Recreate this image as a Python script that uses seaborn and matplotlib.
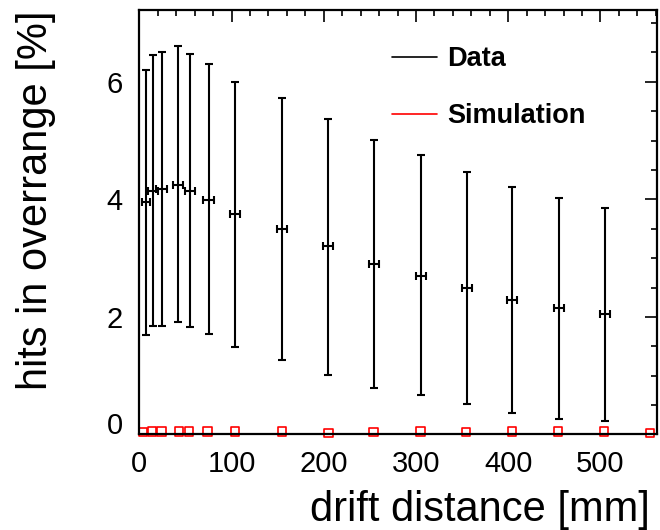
import numpy as np
import pandas as pd
import matplotlib
matplotlib.use('Agg')
import matplotlib.pyplot as plt
from matplotlib.lines import Line2D
from matplotlib.ticker import MultipleLocator
import seaborn as sns

# Data points (drift distance [mm], hits in overrange [%])
data_x = [7.5, 15, 24, 42, 55, 75, 104, 155, 205, 254, 305, 355, 404, 455, 505]
data_y = [3.96, 4.15, 4.17, 4.25, 4.15, 3.99, 3.75, 3.49, 3.21, 2.90, 2.70, 2.49, 2.29, 2.15, 2.05]
data_hi = [6.20, 6.46, 6.51, 6.60, 6.47, 6.30, 5.99, 5.72, 5.37, 5.01, 4.76, 4.46, 4.21, 4.03, 3.86]
data_lo = [1.69, 1.85, 1.85, 1.91, 1.83, 1.71, 1.49, 1.27, 1.02, 0.79, 0.67, 0.52, 0.36, 0.26, 0.23]
data_xerr = [4.2, 5.5, 5.5, 5.5, 5.5, 5.5, 5.5, 5.5, 5.5, 5.5, 5.5, 5.5, 5.5, 5.5, 5.5]

# Simulation points
sim_x = [4, 14, 24, 43, 54, 74, 104, 155, 205, 254, 305, 354, 404, 454, 504, 554]
sim_y = [0.04, 0.05, 0.05, 0.05, 0.05, 0.05, 0.05, 0.05, 0.02, 0.04, 0.05, 0.04, 0.05, 0.05, 0.05, 0.03]

legend_labels = ["Data", "Simulation"]

sns.set_style("white")
plt.rcParams['font.family'] = ['Liberation Sans', 'DejaVu Sans']
plt.rcParams['text.color'] = 'black'
plt.rcParams['axes.labelcolor'] = 'black'
plt.rcParams['xtick.color'] = 'black'
plt.rcParams['ytick.color'] = 'black'

df_data = pd.DataFrame({"x": data_x, "y": data_y, "hi": data_hi, "lo": data_lo, "xerr": data_xerr})
df_sim = pd.DataFrame({"x": sim_x, "y": sim_y})

fig = plt.figure(figsize=(6.6, 5.3), dpi=100)
ax = fig.add_axes([0.2112, 0.1802, 0.7838, 0.8009])

yerr = np.vstack([df_data["y"] - df_data["lo"], df_data["hi"] - df_data["y"]])
ax.errorbar(df_data["x"], df_data["y"], yerr=yerr, xerr=df_data["xerr"],
            fmt='none', ecolor='black', elinewidth=1.5, capsize=3, capthick=1.5, zorder=3)

sns.scatterplot(data=df_sim, x="x", y="y", ax=ax, marker='s', s=36,
                facecolor='none', edgecolor='red', linewidth=1.2, zorder=2, clip_on=False)

ax.set_xlim(0, 561)
ax.set_ylim(0, 7.22)
ax.xaxis.set_major_locator(MultipleLocator(100))
ax.xaxis.set_minor_locator(MultipleLocator(20))
ax.yaxis.set_major_locator(MultipleLocator(2))
ax.yaxis.set_minor_locator(MultipleLocator(0.5))

ax.tick_params(which='both', direction='in', top=True, right=True, colors='black', width=1.2)
ax.tick_params(which='major', length=8.6, labelsize=21)
ax.tick_params(which='minor', length=4.3)
ax.tick_params(axis='x', which='major', pad=11)
ax.tick_params(axis='y', which='major', pad=12)

for sp in ax.spines.values():
    sp.set_visible(True)
    sp.set_color('black')
    sp.set_linewidth(1.6)

ax.set_xlabel("drift distance [mm]", fontsize=30, loc='right')
ax.set_ylabel("hits in overrange [%]", fontsize=30, loc='top')
ax.xaxis.set_label_coords(0.987, -0.131)
ax.yaxis.set_label_coords(-0.161, 1.0)

handles = [Line2D([], [], color='black', linewidth=1.2),
           Line2D([], [], color='red', linewidth=1.2)]
ax.legend(handles, legend_labels, loc='upper left', bbox_to_anchor=(0.488, 0.915),
          frameon=False, prop={'weight': 'bold', 'size': 19.5},
          handlelength=1.65, handletextpad=0.4, labelspacing=1.15,
          borderpad=0, borderaxespad=0)

# the y "0" sits a little higher, as in the original
fig.canvas.draw()
for tick in ax.yaxis.get_major_ticks():
    if abs(tick.get_loc()) < 1e-9:
        tick.label1.set_verticalalignment('baseline')

fig.savefig("out.png", dpi=100)
